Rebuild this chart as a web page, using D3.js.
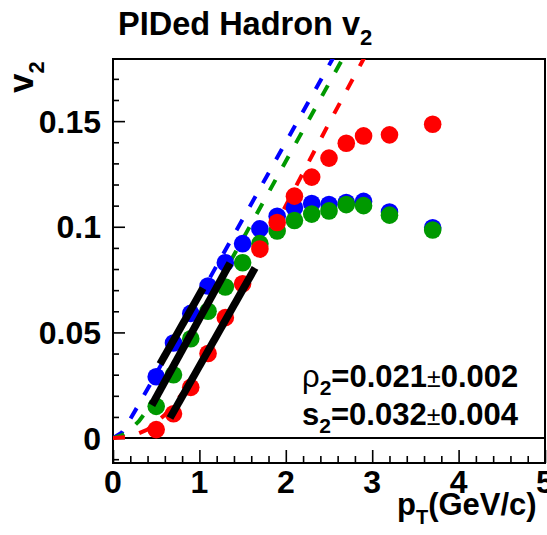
<!DOCTYPE html>
<html><head><meta charset="utf-8">
<script src="https://cdn.jsdelivr.net/npm/d3@7"></script>
<style>
html,body{margin:0;padding:0;background:#fff;}
svg text{font-family:"Liberation Sans",Arial,Helvetica,sans-serif;font-weight:bold;fill:#000;}
</style></head>
<body>
<svg id="chart" width="547" height="535"></svg>
<script>
// ---- data ----
const pT = [0.5,0.7,0.9,1.1,1.3,1.5,1.7,1.9,2.1,2.3,2.5,2.7,2.9,3.2,3.7];
const v2Blue  = [0.029,0.045,0.059,0.072,0.083,0.092,0.099,0.105,0.109,0.111,0.1105,0.1115,0.112,0.107,0.0995];
const v2Green = [0.015,0.030,0.047,0.060,0.0715,0.083,0.092,0.098,0.103,0.106,0.1075,0.1105,0.110,0.1055,0.0985];
const v2Red   = [0.004,0.0115,0.024,0.040,0.057,0.073,0.0895,0.102,0.1145,0.1235,0.1325,0.1395,0.143,0.1435,0.1485];

// dashed reference curves
const dashBluePt  = [0,0.1,0.2,0.3,0.5,1.0,1.5,2.0,2.7];
const dashBlueV   = [0,0.0025,0.009,0.016,0.0305,0.067,0.1035,0.140,0.191];
const dashGreenPt = [0,0.1,0.2,0.3,0.4,0.6,1.0,1.5,2.0,2.8];
const dashGreenV  = [0,0.0012,0.004,0.008,0.0135,0.027,0.0575,0.094,0.131,0.19];
const dashRedPt   = [0,0.2,0.4,0.6,0.8,1.0,1.5,2.0,2.5,3.0];
const dashRedV    = [0,0.0005,0.004,0.011,0.021,0.033,0.07,0.11,0.149,0.187];

// black solid fit lines [pT0, v0, pT1, v1]
const fitPt0 = [0.544,0.45,0.66];
const fitV0  = [0.035,0.0156,0.0095];
const fitPt1 = [1.042,1.354,1.644];
const fitV1  = [0.071,0.0828,0.0805];

const xTicks = [0,1,2,3,4,5];
const xTickLabels = ["0","1","2","3","4","5"];
const yTicks = [0,0.05,0.1,0.15];
const yTickLabels = ["0","0.05","0.1","0.15"];

const titleMain = "PIDed Hadron v", titleSub = "2";

// ---- layout ----
const svg = d3.select("#chart");
const L=113, R=545, T=59, B=463;
const x = d3.scaleLinear().domain([0,5]).range([L,R]);
const y = d3.scaleLinear().domain([-0.0118,0.1794]).range([B,T]);

svg.append("defs").append("clipPath").attr("id","clip")
  .append("rect").attr("x",L).attr("y",T).attr("width",R-L).attr("height",B-T);

// zero line
svg.append("line").attr("x1",L).attr("x2",R).attr("y1",y(0)).attr("y2",y(0))
  .attr("stroke","#000").attr("stroke-width",2);

// axes ticks
const xAxis = d3.axisTop(x).tickValues(d3.range(0,5.001,0.2)).tickSize(0).tickFormat("");
const gx = svg.append("g").attr("transform",`translate(0,${B})`).call(xAxis);
gx.select(".domain").remove();
gx.selectAll(".tick line").attr("y2",d=>Math.abs(d-Math.round(d))<1e-6?-13:-7)
  .attr("stroke","#000").attr("stroke-width",1.6);
const yAxis = d3.axisRight(y).tickValues(d3.range(-0.01,0.1701,0.01)).tickSize(0).tickFormat("");
const gy = svg.append("g").attr("transform",`translate(${L},0)`).call(yAxis);
gy.select(".domain").remove();
gy.selectAll(".tick line").attr("x2",d=>Math.abs(d*20-Math.round(d*20))<1e-6?12:6)
  .attr("stroke","#000").attr("stroke-width",1.6);

// tick labels
svg.append("g").selectAll("text").data(xTicks).join("text")
  .attr("x",d=>x(d)).attr("y",493).attr("text-anchor","middle")
  .attr("font-size",32).text((d,i)=>xTickLabels[i]);
svg.append("g").selectAll("text").data(yTicks).join("text")
  .attr("x",101).attr("y",d=>y(d)+11.5).attr("text-anchor","end")
  .attr("font-size",32).text((d,i)=>yTickLabels[i]);

// frame
svg.append("rect").attr("x",L).attr("y",T).attr("width",R-L).attr("height",B-T)
  .attr("fill","none").attr("stroke","#000").attr("stroke-width",2);

// dashed curves
const plot = svg.append("g").attr("clip-path","url(#clip)");
const line = d3.line().x(d=>x(d[0])).y(d=>y(d[1]));
const dashSets = [
  [dashBluePt,dashBlueV,"#0000ff"],
  [dashGreenPt,dashGreenV,"#009900"],
  [dashRedPt,dashRedV,"#ff0000"]];
dashSets.forEach(([px,pv,c])=>{
  plot.append("path").datum(px.map((p,i)=>[p,pv[i]])).attr("d",line)
    .attr("fill","none").attr("stroke",c).attr("stroke-width",4)
    .attr("stroke-dasharray","12,15");
});

// points
const ptSets = [[v2Blue,"#0000ff"],[v2Green,"#009900"],[v2Red,"#ff0000"]];
ptSets.forEach(([vals,c])=>{
  plot.append("g").selectAll("circle").data(pT.map((p,i)=>[p,vals[i]])).join("circle")
    .attr("cx",d=>x(d[0])).attr("cy",d=>y(d[1])).attr("r",8.8).attr("fill",c);
});

// fit lines
plot.append("g").selectAll("line").data(fitPt0).join("line")
  .attr("x1",(d,i)=>x(fitPt0[i])).attr("y1",(d,i)=>y(fitV0[i]))
  .attr("x2",(d,i)=>x(fitPt1[i])).attr("y2",(d,i)=>y(fitV1[i]))
  .attr("stroke","#000").attr("stroke-width",7.5);

// title
const tt = svg.append("text").attr("x",118).attr("y",35).attr("font-size",32.5);
tt.append("tspan").text(titleMain);
tt.append("tspan").attr("dy",10).attr("font-size",22).text(titleSub);

// y title
const yt = svg.append("text").attr("transform","translate(33,93) rotate(-90)").attr("font-size",35);
yt.append("tspan").text("v");
yt.append("tspan").attr("dy",11).attr("font-size",22).text("2");

// x title
const xt = svg.append("text").attr("x",397).attr("y",515).attr("font-size",31);
xt.append("tspan").text("p");
xt.append("tspan").attr("dy",9).attr("font-size",20).text("T");
xt.append("tspan").attr("dy",-9).text("(GeV/c)");

// annotation
function annot(yb, sym, symBold, a, b){
  const t = svg.append("text").attr("x",302).attr("y",yb).attr("font-size",31);
  t.append("tspan").attr("font-weight",symBold?"bold":"normal").text(sym);
  t.append("tspan").attr("dy",8).attr("font-size",21).text("2");
  t.append("tspan").attr("dy",-8).text("="+a);
  t.append("tspan").attr("font-weight","normal").attr("font-size",25).text("\u00b1");
  t.append("tspan").text(b);
}
annot(387,"\u03c1",false,"0.021","0.002");
annot(425,"s",true,"0.032","0.004");
</script>
</body></html>
